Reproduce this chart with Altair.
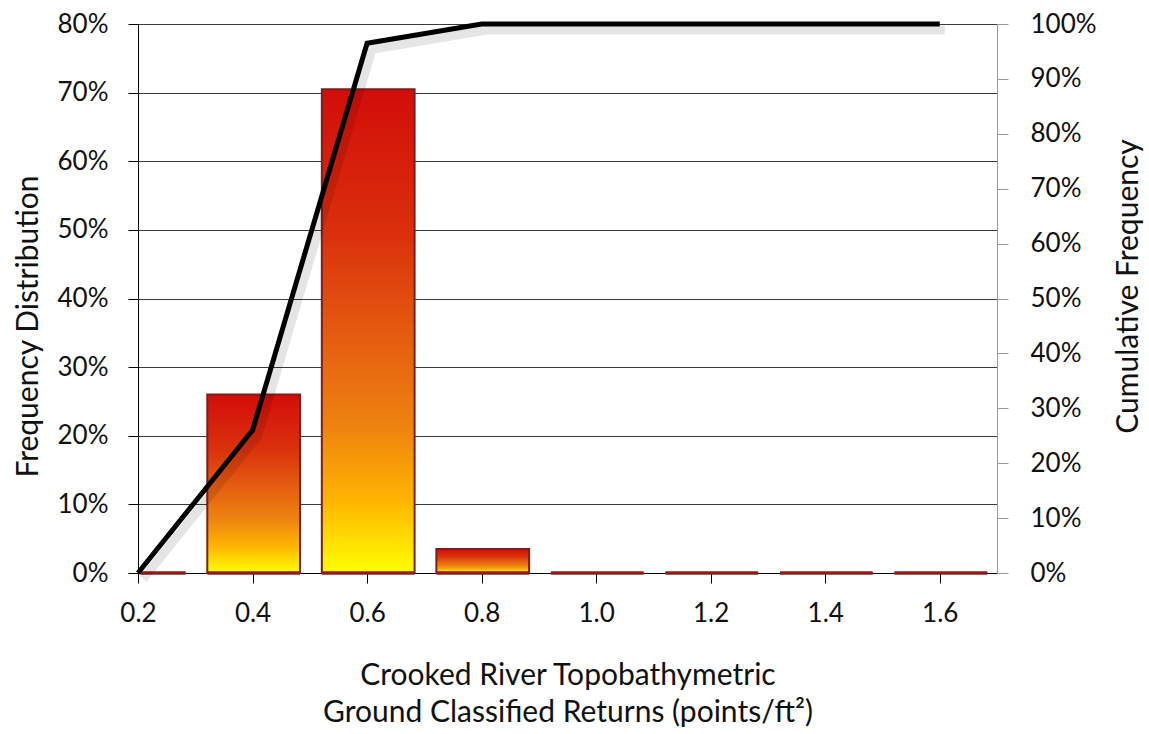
import altair as alt
import pandas as pd

bins = [0.2, 0.4, 0.6, 0.8, 1.0, 1.2, 1.4, 1.6]
freq = [0.0, 0.26, 0.705, 0.035, 0.0, 0.0, 0.0, 0.0]
cum = [0.0, 0.26, 0.965, 1.0, 1.0, 1.0, 1.0, 1.0]

df = pd.DataFrame({"bin": bins, "freq": freq, "cum": cum})

FONT = "Lato"
LBL = 26
TTL = 30
W, H = 859, 549

xscale = alt.Scale(domain=[0.2, 1.7], nice=False, zero=False)
yleft_scale = alt.Scale(domain=[0, 0.8], nice=False)

xaxis = alt.Axis(
    values=bins, format=".1f", grid=False, domainColor="#000", domainWidth=1,
    tickColor="#000", tickSize=10, labelPadding=17, labelFont=FONT, labelFontSize=LBL,
    labelColor="#111", labelFlush=False, labelOverlap=False,
    title=["Crooked River Topobathymetric", "Ground Classified Returns (points/ft²)"],
    titleFont=FONT, titleFontSize=TTL, titleFontWeight="normal", titleColor="#111",
    titleBaseline="top", titleY=87, titleLineHeight=37,
)

grad = alt.Gradient(
    gradient="linear", x1=0, x2=0, y1=0, y2=1,
    stops=[
        alt.GradientStop(offset=0, color="#d30d0a"),
        alt.GradientStop(offset=0.3, color="#da300c"),
        alt.GradientStop(offset=0.5, color="#e45a10"),
        alt.GradientStop(offset=0.7, color="#ee8410"),
        alt.GradientStop(offset=0.85, color="#ffb400"),
        alt.GradientStop(offset=1, color="#ffff00"),
    ],
)

yleft_axis = alt.Axis(values=[i / 10 for i in range(9)], format=".0%", grid=True,
                      gridColor="#3a3a3a", gridWidth=1, domainColor="#000",
                      tickColor="#000", tickSize=10, labelPadding=20,
                      labelFont=FONT, labelFontSize=LBL, labelColor="#111",
                      title="Frequency Distribution", titleFont=FONT, titleFontSize=TTL,
                      titleFontWeight="normal", titleColor="#111", titleAngle=270,
                      titleX=-110, titleY=302, titleAlign="center", titleBaseline="middle")

base = alt.Chart(df).transform_calculate(
    x0="max(datum.bin - 0.083, 0.2) + 0.004", x1="datum.bin + 0.083", base="0"
)

bars = base.mark_rect(color=grad, stroke="#7a1f1f", strokeWidth=2).encode(
    x=alt.X("x0:Q", scale=xscale, axis=xaxis),
    x2="x1:Q",
    y=alt.Y("freq:Q", scale=yleft_scale, axis=yleft_axis),
    y2="base:Q",
)

baselines = base.mark_rule(color="#8e1e1e", strokeWidth=3.5).encode(
    x=alt.X("x0:Q", scale=xscale),
    x2="x1:Q",
    y=alt.Y("base:Q", scale=yleft_scale),
)

left = alt.layer(bars, baselines)

yright = alt.Y("cum:Q", scale=alt.Scale(domain=[0, 1], nice=False),
               axis=alt.Axis(orient="right", values=[i / 10 for i in range(11)], format=".0%",
                             grid=False, domainColor="#999", tickColor="#999", tickSize=11,
                             labelPadding=22, labelFont=FONT, labelFontSize=LBL, labelColor="#111",
                             title="Cumulative Frequency", titleFont=FONT, titleFontSize=TTL,
                             titleFontWeight="normal", titleColor="#111", titleAngle=270,
                             titleX=131, titleY=262, titleAlign="center", titleBaseline="middle"))

shadow = alt.Chart(df).mark_line(color="#000", opacity=0.1, strokeWidth=9, xOffset=5, yOffset=6).encode(
    x=alt.X("bin:Q", scale=xscale), y=yright
)

line = alt.Chart(df).mark_line(color="#000", strokeWidth=5).encode(
    x=alt.X("bin:Q", scale=xscale), y=yright
)

right = alt.layer(shadow, line)

chart = alt.layer(left, right).resolve_scale(y="independent").properties(
    width=W, height=H,
    autosize=alt.AutoSizeParams(type="none"),
    padding={"left": 138, "top": 24, "right": 152, "bottom": 161},
    background="white",
).configure_view(stroke=None)

chart.save("out.html", embed_options={"renderer": "svg", "actions": False})
